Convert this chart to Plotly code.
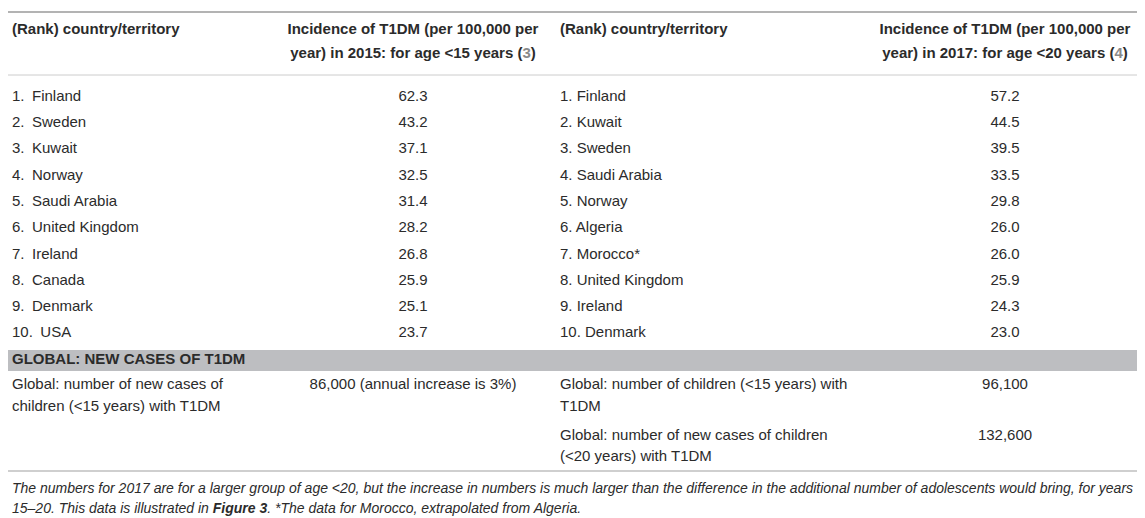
import plotly.graph_objects as go

# table content
countries_2015 = ["Finland", "Sweden", "Kuwait", "Norway", "Saudi Arabia",
                  "United Kingdom", "Ireland", "Canada", "Denmark", "USA"]
incidence_2015 = [62.3, 43.2, 37.1, 32.5, 31.4, 28.2, 26.8, 25.9, 25.1, 23.7]

countries_2017 = ["Finland", "Kuwait", "Sweden", "Saudi Arabia", "Norway",
                  "Algeria", "Morocco*", "United Kingdom", "Ireland", "Denmark"]
incidence_2017 = [57.2, 44.5, 39.5, 33.5, 29.8, 26.0, 26.0, 25.9, 24.3, 23.0]

header_country = "(Rank) country/territory"
header_2015 = ["Incidence of T1DM (per 100,000 per",
               "year) in 2015: for age <15 years (<span style='color:#8a8a8a'>3</span>)"]
header_2017 = ["Incidence of T1DM (per 100,000 per",
               "year) in 2017: for age <20 years (<span style='color:#8a8a8a'>4</span>)"]

band_label = "GLOBAL: NEW CASES OF T1DM"
global_left_label = ["Global: number of new cases of", "children (<15 years) with T1DM"]
global_left_value = "86,000 (annual increase is 3%)"
global_right_labels = [["Global: number of children (<15 years) with", "T1DM"],
                       ["Global: number of new cases of children", "(<20 years) with T1DM"]]
global_right_values = ["96,100", "132,600"]

footnote = [
    "The numbers for 2017 are for a larger group of age <20, but the increase in numbers is much larger "
    "than the difference in the additional number of adolescents would bring, for years",
    "15\u201320. This data is illustrated in <b>Figure 3</b>. *The data for Morocco, "
    "extrapolated from Algeria.",
]

# layout (pixels)
W, H = 1145, 518
FONT = "Liberation Sans, Arial, sans-serif"
FS = 15
TXT = "#2b2b2b"
X_COL1, X_COL2, X_COL3, X_COL4 = 4, 405, 552, 997
Y_HEAD = [22, 46]
ROW0, ROW_H = 89, 26.3
BAND_TOP, BAND_BOT = 342, 363
Y_GLOBAL = [377, 399, 428, 449]
Y_FOOT = [481, 501]

fig = go.Figure()


def add_text(xs, ys, texts, pos, size=FS, color=TXT):
    fig.add_trace(go.Scatter(
        x=xs, y=ys, text=texts, mode="text", textposition=pos,
        textfont=dict(family=FONT, size=size, color=color),
        hoverinfo="skip", showlegend=False, cliponaxis=False,
    ))


row_y = [ROW0 + i * ROW_H for i in range(len(countries_2015))]

# headers
add_text([X_COL1, X_COL3], [Y_HEAD[0]] * 2, ["<b>%s</b>" % header_country] * 2, "middle right")
add_text([X_COL2] * 2, Y_HEAD, ["<b>%s</b>" % t for t in header_2015], "middle center")
add_text([X_COL4] * 2, Y_HEAD, ["<b>%s</b>" % t for t in header_2017], "middle center")

# ranked rows
left_names = ["%d.\u2002%s" % (i + 1, c) for i, c in enumerate(countries_2015)]
right_names = ["%d. %s" % (i + 1, c) for i, c in enumerate(countries_2017)]
add_text([X_COL1] * 10, row_y, left_names, "middle right")
add_text([X_COL2] * 10, row_y, ["%.1f" % v for v in incidence_2015], "middle center")
add_text([X_COL3] * 10, row_y, right_names, "middle right")
add_text([X_COL4] * 10, row_y, ["%.1f" % v for v in incidence_2017], "middle center")

# global section
add_text([X_COL1], [(BAND_TOP + BAND_BOT) / 2], ["<b>%s</b>" % band_label], "middle right")
add_text([X_COL1] * 2, Y_GLOBAL[:2], global_left_label, "middle right")
add_text([X_COL2], [Y_GLOBAL[0]], [global_left_value], "middle center")
add_text([X_COL3] * 4, Y_GLOBAL, global_right_labels[0] + global_right_labels[1], "middle right")
add_text([X_COL4] * 2, [Y_GLOBAL[0], Y_GLOBAL[2]], global_right_values, "middle center")

# footnote
add_text([X_COL1] * 2, Y_FOOT, ["<i>%s</i>" % t for t in footnote], "middle right", size=14)

shapes = [
    dict(type="line", x0=0, x1=W, y0=4, y1=4, line=dict(color="#b3b3b3", width=2)),
    dict(type="line", x0=0, x1=W, y0=67, y1=67, line=dict(color="#cccccc", width=1)),
    dict(type="rect", x0=0, x1=W, y0=BAND_TOP, y1=BAND_BOT, fillcolor="#bdbec1", line=dict(width=0),
         layer="below"),
    dict(type="line", x0=0, x1=W, y0=463, y1=463, line=dict(color="#cfcfcf", width=2)),
]
for s in shapes:
    s.update(xref="x", yref="y")

fig.update_layout(
    width=W, height=H,
    margin=dict(l=0, r=0, t=0, b=0),
    paper_bgcolor="white", plot_bgcolor="white",
    shapes=shapes,
    xaxis=dict(range=[0, W], visible=False, fixedrange=True),
    yaxis=dict(range=[H, 0], visible=False, fixedrange=True),
)

fig.write_html("out.html")
